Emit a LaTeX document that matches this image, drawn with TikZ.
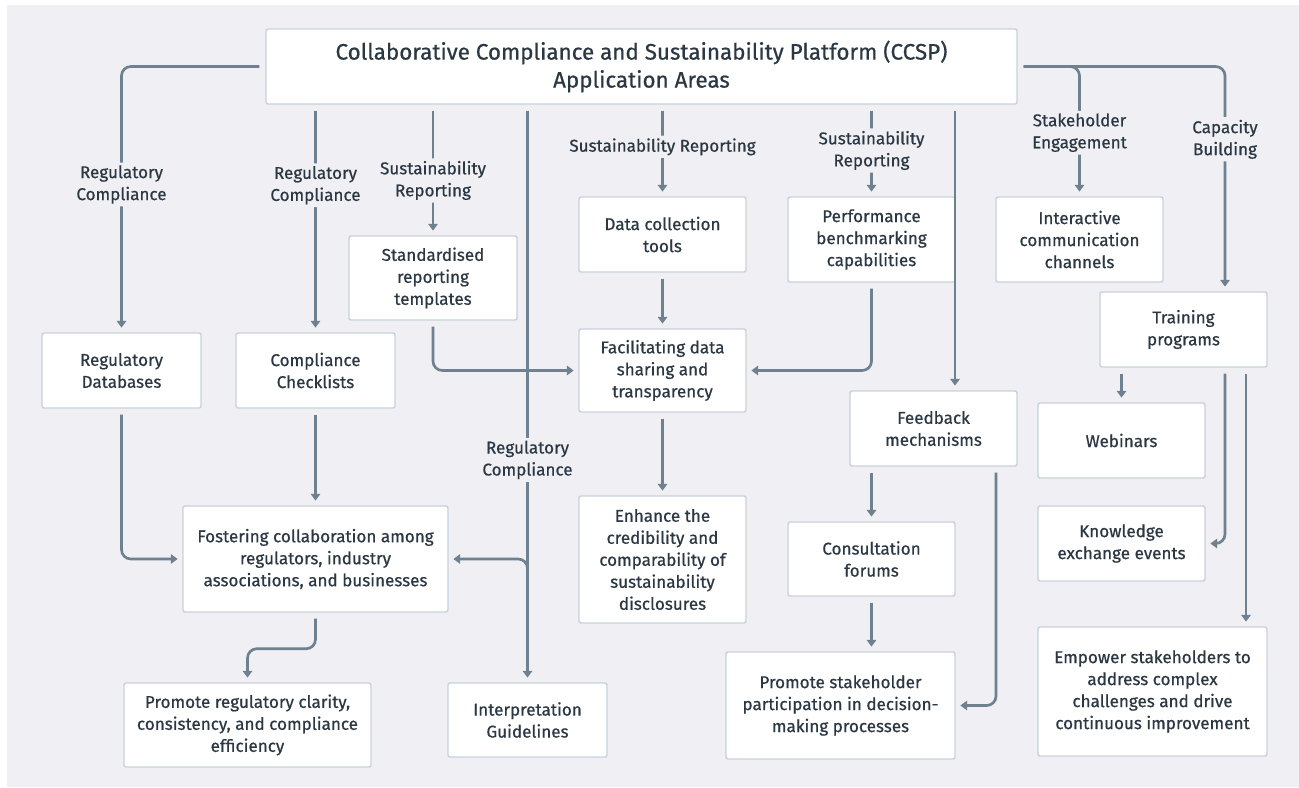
\documentclass[tikz,border=0pt]{standalone}
\usepackage{fontspec}
\setmainfont{Fira Sans}[FakeBold=0.6]
\usepackage{tikz}
\usetikzlibrary{arrows.meta,positioning,calc}
\definecolor{fondo}{HTML}{EFEFF4}
\definecolor{borde}{HTML}{C9D1DA}
\definecolor{flecha}{HTML}{6F808E}
\definecolor{texto}{HTML}{2B3742}
\newdimen\pxu \pxu=0.75pt

\begin{document}
\begin{tikzpicture}[
    x=0.75pt, y=-0.75pt,
    font=\fontsize{12.8}{16.5}\selectfont, text=texto,
    box/.style={draw=borde,line width=1.1pt,fill=white,rounded corners=1.5pt,align=center,inner sep=2pt},
    tag/.style={fill=fondo,align=center,inner sep=2pt},
    line/.style={draw=flecha,line width=2pt,rounded corners=7pt,-{Triangle[length=5pt,width=7pt]},shorten <=4.5pt,shorten >=3.5pt}
]
    \useasboundingbox (0,0) rectangle (1299,788);
    \fill[fondo] (7,5) rectangle (1299,787);

    \node[box,font=\fontsize{16.8}{21}\selectfont,minimum width=751\pxu,minimum height=75\pxu] (ccsp) at (641.5,66.5) {Collaborative Compliance and Sustainability Platform (CCSP)\\Application Areas};

    \node[box,minimum width=159\pxu,minimum height=75\pxu] (regdb) at (121.5,370.5) {Regulatory\\Databases};
    \node[box,minimum width=159\pxu,minimum height=75\pxu] (checklists) at (315.5,370.5) {Compliance\\Checklists};
    \node[box,minimum width=168\pxu,minimum height=84\pxu] (templates) at (433,278) {Standardised\\reporting\\templates};
    \node[box,minimum width=167\pxu,minimum height=75\pxu] (datatools) at (662.5,234.5) {Data collection\\tools};
    \node[box,minimum width=167\pxu,minimum height=83\pxu] (facilitate) at (662.5,370.5) {Facilitating data\\sharing and\\transparency};
    \node[box,minimum width=167\pxu,minimum height=85\pxu] (benchmark) at (871.5,239.5) {Performance\\benchmarking\\capabilities};
    \node[box,minimum width=167\pxu,minimum height=85\pxu] (channels) at (1079.5,239.5) {Interactive\\communication\\channels};
    \node[box,minimum width=167\pxu,minimum height=75\pxu] (training) at (1183.5,329.5) {Training\\programs};
    \node[box,minimum width=167\pxu,minimum height=75\pxu] (webinars) at (1121.5,440.5) {Webinars};
    \node[box,minimum width=167\pxu,minimum height=75\pxu] (knowledge) at (1121.5,543.5) {Knowledge\\exchange events};
    \node[box,minimum width=229\pxu,minimum height=129\pxu] (empower) at (1152.5,691.5) {Empower stakeholders to\\address complex\\challenges and drive\\continuous improvement};
    \node[box,minimum width=167\pxu,minimum height=75\pxu] (feedback) at (933.5,428.5) {Feedback\\mechanisms};
    \node[box,minimum width=167\pxu,minimum height=74\pxu] (consult) at (871.5,559) {Consultation\\forums};
    \node[box,minimum width=229\pxu,minimum height=107\pxu] (stakepart) at (840.5,705.5) {Promote stakeholder\\participation in decision-\\making processes};
    \node[box,minimum width=167\pxu,minimum height=127\pxu] (enhance) at (662.5,559.5) {Enhance the\\credibility and\\comparability of\\sustainability\\disclosures};
    \node[box,minimum width=265\pxu,minimum height=106\pxu] (fostering) at (315.5,559) {Fostering collaboration among\\regulators, industry\\associations, and businesses};
    \node[box,minimum width=247\pxu,minimum height=84\pxu] (clarity) at (247.5,725) {Promote regulatory clarity,\\consistency, and compliance\\efficiency};
    \node[box,minimum width=159\pxu,minimum height=74\pxu] (guidelines) at (527.5,720) {Interpretation\\Guidelines};

    % free ends off-centre
    \coordinate (fbin) at ($(feedback.north)+(21.5,0)$);
    \coordinate (fbout) at ($(feedback.south)+(62.5,0)$);
    \coordinate (trin) at ($(training.north)+(41.5,0)$);
    \coordinate (trout1) at ($(training.south)+(41.5,0)$);
    \coordinate (trout2) at ($(training.south)+(62.5,0)$);
    \coordinate (rcfork) at ($(guidelines.north |- fostering.east)+(0,16)$);

    \draw[line] (ccsp.west) -| node[tag,pos=0.722]{Regulatory\\Compliance} (regdb.north);
    \draw[line] (ccsp.south -| checklists.north) -- node[tag,pos=0.354]{Regulatory\\Compliance} (checklists.north);
    \draw[line] (ccsp.south -| templates.north) -- node[tag,pos=0.58]{Sustainability\\Reporting} (templates.north);
    \draw[line] (ccsp.south -| guidelines.north) -- node[tag,pos=0.615]{Regulatory\\Compliance} (guidelines.north);
    \draw[line,shorten <=0pt] (rcfork) |- (fostering.east);
    \draw[line] (ccsp.south -| datatools.north) -- node[tag,pos=0.46]{Sustainability Reporting} (datatools.north);
    \draw[line] (ccsp.south -| benchmark.north) -- node[tag,pos=0.5]{Sustainability\\Reporting} (benchmark.north);
    \draw[line] (ccsp.south -| fbin) -- (fbin);
    \draw[line] (ccsp.east) -| node[tag,pos=0.755]{Stakeholder\\Engagement} (channels.north);
    \draw[line] (ccsp.east) -| node[tag,pos=0.662]{Capacity\\Building} (trin);

    \draw[line] (regdb.south) |- (fostering.west);
    \draw[line] (checklists.south) -- (fostering.north);
    \draw[line] (fostering.south) -- ++(0,36) -| (clarity.north);
    \draw[line] (templates.south) |- (facilitate.west);
    \draw[line] (datatools.south) -- (facilitate.north);
    \draw[line] (benchmark.south) |- (facilitate.east);
    \draw[line] (facilitate.south) -- (enhance.north);
    \draw[line] (feedback.south -| consult.north) -- (consult.north);
    \draw[line] (fbout) |- (stakepart.east);
    \draw[line] (consult.south) -- (consult.south |- stakepart.north);
    \draw[line] (training.south -| webinars.north) -- (webinars.north);
    \draw[line] (trout1) |- (knowledge.east);
    \draw[line] (trout2) -- (trout2 |- empower.north);
\end{tikzpicture}
\end{document}
